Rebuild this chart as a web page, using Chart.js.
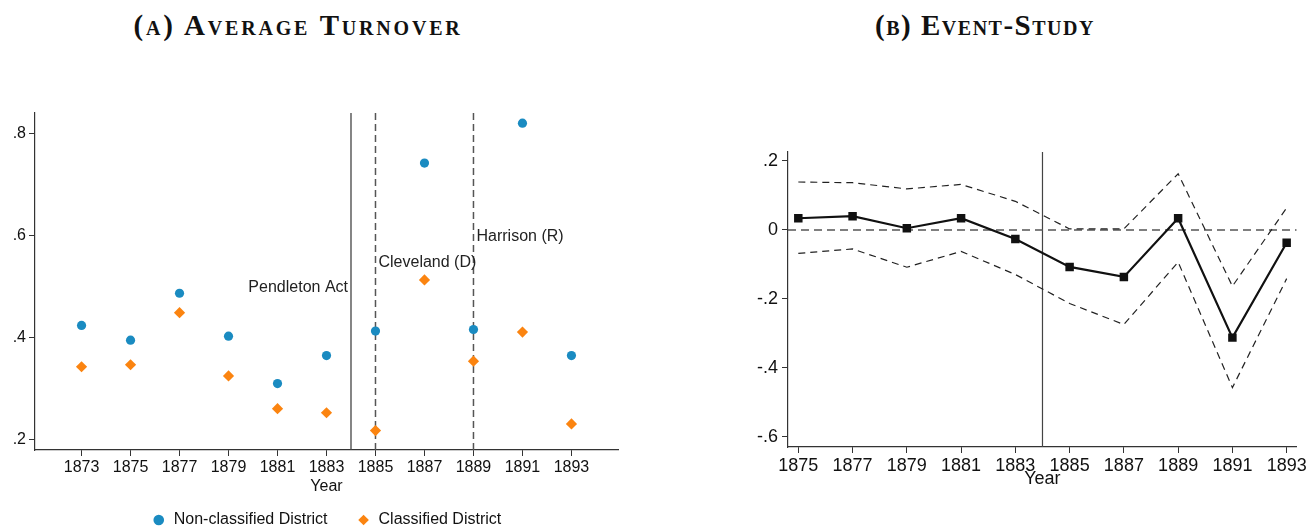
<!DOCTYPE html>
<html>
<head>
<meta charset="utf-8">
<script src="https://cdn.jsdelivr.net/npm/chart.js@4.4.0/dist/chart.umd.min.js"></script>
<style>
  body { margin: 0; background: #fff; width: 1310px; height: 527px; position: relative; overflow: hidden; }
  .painel { position: absolute; top: 0; width: 655px; height: 527px; }
  .titulo { position: absolute; top: 10px; line-height: 30px; font-family: 'Liberation Serif', serif; font-weight: bold;
            font-variant: small-caps; font-size: 29px; letter-spacing: 1.5px; white-space: nowrap;
            transform: translateX(-50%); color: #111; }
</style>
</head>
<body>
<div class="titulo" style="left:298px; letter-spacing: 2.8px">(a) Average Turnover</div>
<div class="titulo" style="left:985px">(b) Event-Study</div>
<div class="painel" style="left:0"><canvas id="rotatividade" width="655" height="527"></canvas></div>
<div class="painel" style="left:655px"><canvas id="evento" width="655" height="527"></canvas></div>
<script>
// painel A
const anos = [1873, 1875, 1877, 1879, 1881, 1883, 1885, 1887, 1889, 1891, 1893];
const naoClassificado = [0.424, 0.395, 0.487, 0.403, 0.310, 0.365, 0.413, 0.742, 0.416, 0.820, 0.365];
const classificado = [0.343, 0.347, 0.449, 0.325, 0.261, 0.253, 0.218, 0.513, 0.354, 0.411, 0.231];
const ticksY1 = [0.2, 0.4, 0.6, 0.8];
const rotulosY1 = ['.2', '.4', '.6', '.8'];
const limitesX1 = [1871.1, 1894.9];
const limitesY1 = [0.18, 0.84];
const eventos = [1884, 1885, 1889];
const eventosNomes = ['Pendleton Act', 'Cleveland (D)', 'Harrison (R)'];
const eventosAltura = [0.498, 0.547, 0.597];

// painel B
const anosEstudo = [1875, 1877, 1879, 1881, 1883, 1885, 1887, 1889, 1891, 1893];
const coeficientes = [0.034, 0.040, 0.005, 0.034, -0.026, -0.107, -0.136, 0.034, -0.312, -0.037];
const limiteSuperior = [0.139, 0.137, 0.119, 0.132, 0.083, 0.003, 0.003, 0.163, -0.163, 0.064];
const limiteInferior = [-0.068, -0.055, -0.108, -0.062, -0.129, -0.213, -0.274, -0.093, -0.457, -0.141];
const ticksY2 = [-0.6, -0.4, -0.2, 0, 0.2];
const rotulosY2 = ['-.6', '-.4', '-.2', '0', '.2'];
const limitesX2 = [1874.62, 1893.37];
const limitesY2 = [-0.629, 0.226];
const anoReforma = 1884;

Chart.defaults.font.family = "'Liberation Sans', Arial, sans-serif";
Chart.defaults.color = '#111';
Chart.defaults.animation = false;

const pontos = (xs, ys) => xs.map((x, i) => ({ x, y: ys[i] }));
const corEixo = '#333';

function eixoX(limites, valores, tamanho, alturaEixo, padTitulo) {
  return {
    type: 'linear', position: 'bottom', min: limites[0], max: limites[1],
    afterBuildTicks: s => { s.ticks = valores.map(v => ({ value: v })); },
    afterFit: s => { s.height = alturaEixo; },
    grid: { drawOnChartArea: false, drawTicks: true, tickLength: 6, tickColor: corEixo },
    border: { display: true, color: corEixo, width: 1.2 },
    ticks: { callback: (v, i) => String(valores[i]), font: { size: tamanho }, padding: 2, maxRotation: 0, autoSkip: false },
    title: { display: true, text: 'Year', font: { size: tamanho }, padding: { top: 0, bottom: padTitulo } }
  };
}

function eixoY(limites, valores, rotulos, tamanho, largura, pad) {
  return {
    min: limites[0], max: limites[1],
    afterBuildTicks: s => { s.ticks = valores.map(v => ({ value: v })); },
    afterFit: s => { s.width = largura; },
    grid: { drawOnChartArea: false, drawTicks: true, tickLength: 6, tickColor: corEixo },
    border: { display: true, color: corEixo, width: 1.2 },
    ticks: { callback: (v, i) => rotulos[i], font: { size: tamanho }, padding: pad, autoSkip: false }
  };
}

const rotulosEventos = {
  id: 'rotulosEventos',
  afterDatasetsDraw(chart) {
    const { ctx, scales: { x, y } } = chart;
    ctx.save();
    ctx.font = "16px 'Liberation Sans', Arial, sans-serif";
    ctx.fillStyle = '#222';
    ctx.textBaseline = 'middle';
    eventos.forEach((ano, i) => {
      const px = x.getPixelForValue(ano);
      const py = y.getPixelForValue(eventosAltura[i]);
      ctx.textAlign = i === 0 ? 'right' : 'left';
      ctx.fillText(eventosNomes[i], i === 0 ? px - 3 : px + 3, py);
    });
    ctx.restore();
  }
};

new Chart(document.getElementById('rotatividade'), {
  type: 'scatter',
  data: {
    datasets: [
      { label: 'Non-classified District', data: pontos(anos, naoClassificado), pointStyle: 'circle', pointRadius: 4.6,
        backgroundColor: '#1a8bc1', borderColor: '#1a8bc1', borderWidth: 0 },
      { label: 'Classified District', data: pontos(anos, classificado), pointStyle: 'rectRot', pointRadius: 5.6,
        backgroundColor: '#fb8410', borderColor: '#fb8410', borderWidth: 0 },
      { label: 'Pendleton', data: [{ x: eventos[0], y: limitesY1[0] }, { x: eventos[0], y: limitesY1[1] }],
        showLine: true, pointRadius: 0, borderColor: '#444', borderWidth: 1.3 },
      { label: 'Cleveland', data: [{ x: eventos[1], y: limitesY1[0] }, { x: eventos[1], y: limitesY1[1] }],
        showLine: true, pointRadius: 0, borderColor: '#555', borderWidth: 1.5, borderDash: [7, 4] },
      { label: 'Harrison', data: [{ x: eventos[2], y: limitesY1[0] }, { x: eventos[2], y: limitesY1[1] }],
        showLine: true, pointRadius: 0, borderColor: '#555', borderWidth: 1.5, borderDash: [7, 4] }
    ]
  },
  options: {
    responsive: false,
    layout: { padding: { top: 113, left: 0, right: 37, bottom: 0 } },
    scales: {
      x: eixoX(limitesX1, anos, 16, 33, -13),
      y: eixoY(limitesY1, ticksY1, rotulosY1, 16, 35, 3)
    },
    plugins: {
      legend: {
        position: 'bottom', fullSize: false, maxHeight: 44,
        labels: { usePointStyle: true, boxWidth: 14, boxHeight: 7.5, padding: 29, font: { size: 16 }, color: '#111',
                  filter: item => item.datasetIndex < 2 }
      },
      tooltip: { enabled: false }
    }
  },
  plugins: [rotulosEventos]
});

new Chart(document.getElementById('evento'), {
  type: 'scatter',
  data: {
    datasets: [
      { label: 'Coeficiente', data: pontos(anosEstudo, coeficientes), showLine: true, borderColor: '#111', borderWidth: 2.2,
        pointStyle: 'rect', pointRadius: 6, pointBackgroundColor: '#111', pointBorderWidth: 0 },
      { label: 'Superior', data: pontos(anosEstudo, limiteSuperior), showLine: true, borderColor: '#222', borderWidth: 1.2,
        borderDash: [7, 5], pointRadius: 0 },
      { label: 'Inferior', data: pontos(anosEstudo, limiteInferior), showLine: true, borderColor: '#222', borderWidth: 1.2,
        borderDash: [7, 5], pointRadius: 0 },
      { label: 'Zero', data: [{ x: limitesX2[0], y: 0 }, { x: limitesX2[1], y: 0 }], showLine: true, pointRadius: 0,
        borderColor: '#555', borderWidth: 1.5, borderDash: [8, 5] },
      { label: 'Reforma', data: [{ x: anoReforma, y: limitesY2[0] }, { x: anoReforma, y: limitesY2[1] }], showLine: true,
        pointRadius: 0, borderColor: '#444', borderWidth: 1.2 }
    ]
  },
  options: {
    responsive: false,
    layout: { padding: { top: 152, left: 0, right: 13.3, bottom: 37 } },
    scales: {
      x: eixoX(limitesX2, anosEstudo, 18, 43, 0),
      y: eixoY(limitesY2, ticksY2, rotulosY2, 18, 133, 4)
    },
    plugins: { legend: { display: false }, tooltip: { enabled: false } }
  }
});
</script>
</body>
</html>
